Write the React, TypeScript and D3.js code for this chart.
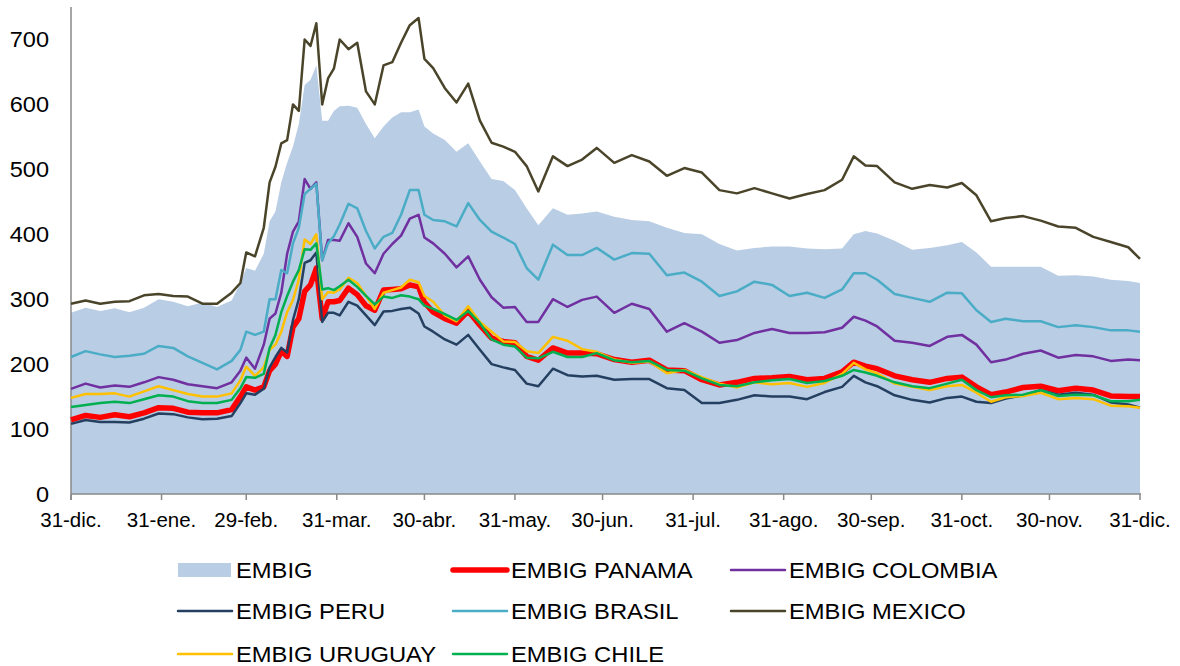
import * as React from 'react';
import { useEffect, useRef } from 'react';
import * as d3 from 'd3';

// days elapsed since 31-dic-2019
const days = [0, 5, 10, 15, 20, 25, 30, 35, 40, 45, 50, 55, 58, 60, 63, 66, 68, 70, 72, 74, 76, 78, 80, 82, 84, 86, 88, 90, 92, 95, 98, 101, 104, 107, 110, 113, 116, 119, 121, 124, 128, 132, 136, 140, 144, 148, 152, 156, 160, 165, 170, 175, 180, 186, 192, 198, 204, 210, 216, 222, 228, 234, 240, 246, 252, 258, 264, 268, 272, 276, 282, 288, 294, 300, 305, 310, 315, 320, 326, 332, 338, 344, 350, 356, 362, 366];

const embig = [279, 287, 282, 286, 280, 287, 300, 296, 289, 295, 288, 298, 325, 348, 344, 370, 420, 435, 480, 510, 535, 570, 630, 638, 660, 575, 575, 590, 597, 598, 595, 570, 548, 566, 580, 588, 588, 592, 566, 555, 545, 527, 540, 512, 485, 482, 468, 440, 414, 440, 430, 432, 435, 427, 422, 420, 410, 402, 400, 385, 375, 379, 381, 381, 378, 377, 378, 400, 405, 401, 390, 376, 379, 383, 388, 372, 350, 350, 350, 350, 336, 337, 335, 330, 328, 325];
const panama = [114, 121, 118, 122, 119, 125, 133, 132, 126, 125, 125, 130, 150, 165, 160, 165, 190, 200, 220, 212, 257, 270, 312, 322, 348, 270, 296, 296, 298, 317, 307, 290, 283, 314, 315, 316, 322, 319, 295, 280, 270, 263, 282, 260, 240, 235, 233, 212, 206, 225, 217, 217, 216, 207, 203, 206, 191, 190, 176, 168, 172, 178, 179, 181, 176, 178, 188, 203, 197, 193, 182, 176, 172, 178, 180, 165, 153, 157, 164, 166, 159, 163, 160, 151, 150, 150];
const colombia = [162, 170, 164, 167, 165, 172, 180, 176, 169, 166, 163, 172, 190, 210, 193, 230, 270, 278, 310, 370, 404, 420, 485, 470, 480, 360, 391, 391, 390, 417, 396, 355, 340, 370, 385, 398, 424, 430, 395, 386, 370, 349, 366, 330, 303, 287, 288, 265, 265, 300, 288, 299, 304, 279, 293, 285, 250, 263, 250, 233, 237, 248, 254, 248, 248, 249, 256, 273, 267, 258, 236, 233, 228, 242, 245, 230, 203, 207, 216, 221, 210, 214, 212, 205, 207, 206];
const peru = [108, 114, 111, 111, 110, 116, 124, 123, 118, 115, 116, 120, 140, 155, 153, 162, 195, 211, 225, 218, 268, 300, 356, 360, 372, 265, 279, 279, 275, 296, 290, 275, 260, 281, 282, 285, 287, 278, 258, 250, 238, 230, 245, 222, 200, 195, 191, 170, 166, 193, 183, 181, 182, 176, 177, 177, 163, 160, 140, 140, 145, 152, 150, 150, 146, 157, 165, 182, 172, 166, 152, 145, 141, 148, 150, 142, 140, 147, 152, 160, 153, 156, 153, 141, 138, 133];
const brasil = [211, 220, 215, 211, 213, 216, 228, 225, 212, 202, 192, 205, 222, 250, 245, 250, 300, 300, 345, 340, 386, 410, 462, 470, 478, 360, 386, 397, 415, 447, 440, 405, 378, 396, 402, 430, 468, 468, 430, 422, 420, 412, 448, 422, 404, 395, 385, 348, 330, 384, 368, 368, 379, 361, 371, 370, 337, 341, 327, 305, 312, 327, 322, 305, 310, 302, 315, 340, 340, 330, 308, 302, 296, 310, 309, 283, 265, 270, 266, 266, 257, 260, 257, 252, 252, 250];
const mexico = [293, 298, 293, 296, 297, 306, 308, 305, 304, 293, 293, 310, 325, 372, 366, 410, 480, 504, 540, 545, 600, 590, 700, 690, 725, 600, 640, 655, 700, 685, 695, 620, 600, 660, 665, 695, 722, 733, 670, 656, 625, 603, 632, 575, 541, 535, 527, 505, 466, 520, 505, 515, 533, 510, 522, 512, 490, 502, 495, 468, 463, 471, 463, 455, 462, 468, 484, 520, 506, 505, 480, 470, 476, 472, 479, 460, 420, 425, 428, 421, 412, 410, 396, 388, 380, 362];
const uruguay = [148, 154, 154, 155, 150, 158, 166, 160, 154, 150, 150, 155, 175, 196, 182, 195, 222, 230, 250, 280, 299, 330, 392, 385, 400, 300, 311, 310, 315, 333, 325, 305, 285, 310, 314, 318, 330, 326, 305, 296, 275, 266, 289, 265, 250, 235, 234, 220, 217, 242, 236, 223, 219, 207, 202, 204, 186, 191, 180, 170, 164, 172, 169, 171, 165, 171, 185, 202, 192, 186, 170, 165, 160, 166, 168, 156, 142, 149, 151, 156, 146, 148, 146, 136, 135, 133];
const chile = [134, 137, 140, 142, 140, 146, 152, 150, 143, 140, 140, 145, 163, 180, 179, 185, 225, 245, 280, 305, 327, 345, 377, 376, 386, 315, 317, 314, 320, 330, 319, 305, 292, 304, 302, 306, 304, 300, 290, 285, 277, 268, 282, 263, 238, 230, 227, 210, 209, 219, 211, 211, 217, 206, 203, 205, 191, 190, 178, 168, 166, 172, 175, 177, 171, 174, 182, 191, 187, 182, 172, 166, 163, 170, 176, 160, 149, 152, 153, 160, 151, 153, 152, 143, 143, 145];

const tickDates = ['2019-12-31', '2020-01-31', '2020-02-29', '2020-03-31', '2020-04-30', '2020-05-31', '2020-06-30', '2020-07-31', '2020-08-31', '2020-09-30', '2020-10-31', '2020-11-30', '2020-12-31'];
const tickLabels = ['31-dic.', '31-ene.', '29-feb.', '31-mar.', '30-abr.', '31-may.', '30-jun.', '31-jul.', '31-ago.', '30-sep.', '31-oct.', '30-nov.', '31-dic.'];
const yTicks = [0, 100, 200, 300, 400, 500, 600, 700];

const lines = [
  { name: 'EMBIG PANAMA', values: panama, color: '#FF0000', width: 5.5 },
  { name: 'EMBIG COLOMBIA', values: colombia, color: '#7030A0', width: 2.5 },
  { name: 'EMBIG PERU', values: peru, color: '#243F60', width: 2.5 },
  { name: 'EMBIG BRASIL', values: brasil, color: '#4BACC6', width: 2.5 },
  { name: 'EMBIG MEXICO', values: mexico, color: '#4A452A', width: 2.5 },
  { name: 'EMBIG URUGUAY', values: uruguay, color: '#FFC000', width: 2.5 },
  { name: 'EMBIG CHILE', values: chile, color: '#00B050', width: 2.5 },
];

const FONT = 'Arial, "Liberation Sans", sans-serif';

export default function App() {
  const ref = useRef<SVGSVGElement>(null);

  useEffect(() => {
    const svg = d3.select(ref.current);
    svg.selectAll('*').remove();

    const start = new Date(Date.UTC(2019, 11, 31));
    const dates = days.map(d => d3.utcDay.offset(start, d));

    const x = d3.scaleUtc()
      .domain([start, new Date(Date.UTC(2020, 11, 31))])
      .range([71, 1140]);
    const y = d3.scaleLinear().domain([0, 750]).range([494, 7]);

    // EMBIG area
    const area = d3.area<number>()
      .x((_, i) => x(dates[i]))
      .y0(y(0))
      .y1(v => y(v));
    svg.append('path')
      .attr('d', area(embig))
      .attr('fill', '#B9CDE5');

    // axes
    const axisColor = '#898989';
    svg.append('line')
      .attr('x1', 71).attr('x2', 71)
      .attr('y1', y(750)).attr('y2', y(0) + 6)
      .attr('stroke', axisColor).attr('stroke-width', 1.5);
    svg.append('line')
      .attr('x1', 71).attr('x2', 1141)
      .attr('y1', y(0)).attr('y2', y(0))
      .attr('stroke', axisColor).attr('stroke-width', 1.5);

    const parse = d3.utcParse('%Y-%m-%d');
    const tickG = svg.append('g');
    tickDates.forEach((t, i) => {
      const tx = x(parse(t) as Date);
      tickG.append('line')
        .attr('x1', tx).attr('x2', tx)
        .attr('y1', y(0)).attr('y2', y(0) + 6)
        .attr('stroke', axisColor).attr('stroke-width', 1.5);
      tickG.append('text')
        .attr('x', tx).attr('y', 527)
        .attr('text-anchor', 'middle')
        .attr('font-family', FONT).attr('font-size', 20.5)
        .attr('fill', '#000')
        .text(tickLabels[i]);
    });

    yTicks.forEach(v => {
      svg.append('text')
        .attr('transform', `translate(49,${y(v) + 7.5}) scale(1.07,1)`)
        .attr('text-anchor', 'end')
        .attr('font-family', FONT).attr('font-size', 22)
        .attr('fill', '#000')
        .text(v);
    });

    // country lines
    const line = d3.line<number>()
      .x((_, i) => x(dates[i]))
      .y(v => y(v));
    lines.forEach(s => {
      svg.append('path')
        .attr('d', line(s.values))
        .attr('fill', 'none')
        .attr('stroke', s.color)
        .attr('stroke-width', s.width)
        .attr('stroke-linejoin', 'round');
    });

    // legend
    const colX = [178, 453, 731];
    const rowY = [570, 611, 654];
    const items = [{ name: 'EMBIG', color: '#B9CDE5', width: 0 }, ...lines];
    items.forEach((it, i) => {
      const cx = colX[i % 3];
      const cy = rowY[Math.floor(i / 3)];
      if (it.width === 0) {
        svg.append('rect')
          .attr('x', cx).attr('y', cy - 7)
          .attr('width', 53).attr('height', 14)
          .attr('fill', it.color);
      } else {
        svg.append('line')
          .attr('x1', cx).attr('x2', cx + 54)
          .attr('y1', cy).attr('y2', cy)
          .attr('stroke', it.color)
          .attr('stroke-width', it.width)
          .attr('stroke-linecap', 'round');
      }
      svg.append('text')
        .attr('transform', `translate(${cx + 58},${cy + 8}) scale(1.08,1)`)
        .attr('font-family', FONT).attr('font-size', 22)
        .attr('fill', '#000')
        .text(it.name);
    });
  }, []);

  return (
    <div style={{ position: 'absolute', left: 0, top: 0 }}>
      <svg ref={ref} width={1180} height={666} style={{ display: 'block' }} />
    </div>
  );
}
